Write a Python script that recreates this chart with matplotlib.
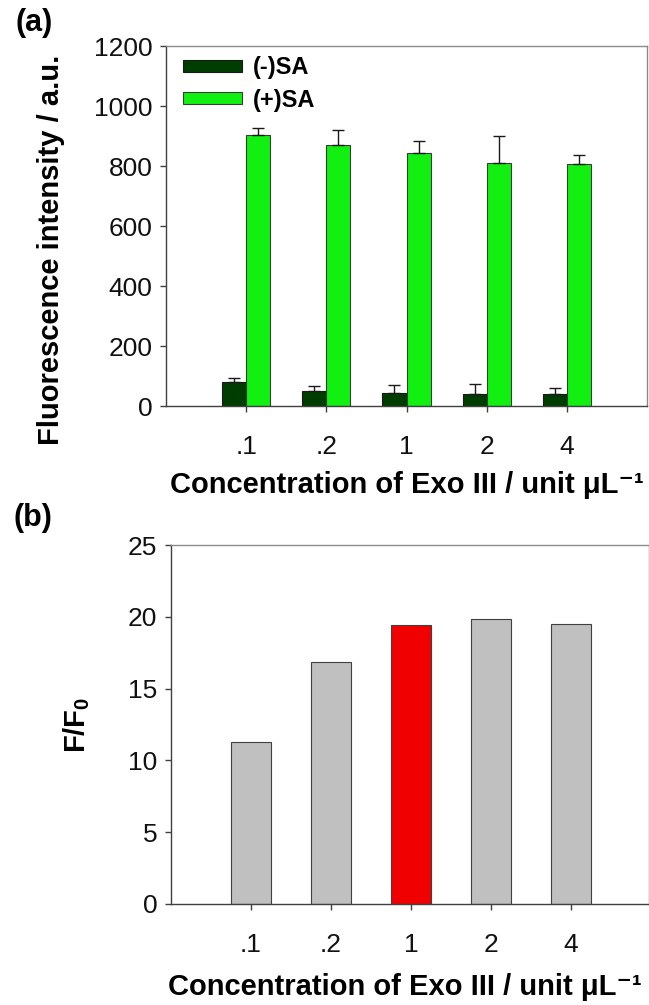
import numpy as np
import matplotlib.pyplot as plt

plt.rcParams['font.family'] = ['Liberation Sans', 'DejaVu Sans']
plt.rcParams['mathtext.fontset'] = 'custom'
plt.rcParams['mathtext.rm'] = 'Liberation Sans'
plt.rcParams['mathtext.bf'] = 'Liberation Sans:bold'

# data
conc_labels = ['.1', '.2', '1', '2', '4']
minus_sa = [80, 51, 45, 41, 41]
minus_sa_err = [15, 16, 24, 31, 19]
plus_sa = [905, 870, 845, 811, 806]
plus_sa_err = [21, 51, 37, 88, 31]
ratio = [11.25, 16.86, 19.46, 19.87, 19.53]
ratio_colors = ['#c0c0c0', '#c0c0c0', '#f00000', '#c0c0c0', '#c0c0c0']

x = np.arange(1, len(conc_labels) + 1)

fig = plt.figure(figsize=(6.49, 10.05), dpi=100)
ax1 = fig.add_axes([0.2558, 0.596, 0.7411, 0.3582])
ax2 = fig.add_axes([0.2635, 0.1005, 0.7365, 0.3572])

xlab = 'Concentration of Exo III / unit μL\u207b\u00b9'

def style(ax):
    for s in ['left', 'bottom']:
        ax.spines[s].set_color('#404040')
    for s in ['top', 'right']:
        ax.spines[s].set_color('#8a8a8a')
    for s in ax.spines.values():
        s.set_linewidth(1.0)
    ax.tick_params(axis='both', direction='out', length=4.3, width=1,
                   colors='#404040', labelcolor='#111111', labelsize=19)
    ax.tick_params(axis='y', pad=5.5)
    ax.tick_params(axis='x', pad=16.5)
    ax.tick_params(top=False, right=False)

# (a)
w = 0.3
ax1.bar(x - w / 2, minus_sa, w, color='#003d00', edgecolor='#1a1a1a', linewidth=0.8,
        label='(-)SA')
ax1.bar(x + w / 2, plus_sa, w, color='#11f011', edgecolor='#3a3a3a', linewidth=0.8,
        label='(+)SA')
ax1.errorbar(x - w / 2, minus_sa, yerr=[np.zeros(5), minus_sa_err], fmt='none',
             ecolor='#1a1a1a', elinewidth=1, capsize=4, capthick=1)
ax1.errorbar(x + w / 2, plus_sa, yerr=[np.zeros(5), plus_sa_err], fmt='none',
             ecolor='#1a1a1a', elinewidth=1, capsize=4, capthick=1)
ax1.set_xlim(0, 6)
ax1.set_ylim(0, 1200)
ax1.set_yticks(np.arange(0, 1201, 200))
ax1.set_xticks(x)
ax1.set_xticklabels(conc_labels)
style(ax1)
ax1.set_ylabel('Fluorescence intensity / a.u.', fontsize=21, fontweight='bold', va='center')
ax1.yaxis.set_label_coords(-0.239, 0.435)
ax1.set_xlabel(xlab, fontsize=21, fontweight='bold', va='center')
ax1.xaxis.set_label_coords(0.5, -0.219)
leg = ax1.legend(loc='upper left', bbox_to_anchor=(0.035, 0.972), frameon=False,
                 prop={'weight': 'bold', 'size': 17},
                 handlelength=2.5, handleheight=0.42, handletextpad=0.45,
                 labelspacing=0.4, borderpad=0, borderaxespad=0)

# (b)
ax2.bar(x, ratio, 0.5, color=ratio_colors, edgecolor='#404040', linewidth=0.8)
ax2.set_xlim(0, 5.975)
ax2.set_ylim(0, 25)
ax2.set_yticks(np.arange(0, 26, 5))
ax2.set_xticks(x)
ax2.set_xticklabels(conc_labels)
style(ax2)
ax2.set_ylabel(r'F/F$_{\mathbf{0}}$', fontsize=21, fontweight='bold', va='center')
ax2.yaxis.set_label_coords(-0.197, 0.5)
ax2.set_xlabel(xlab, fontsize=21, fontweight='bold', va='center')
ax2.xaxis.set_label_coords(0.49, -0.232)

fig.text(34 / 649, 1 - 23 / 1005, '(a)', fontsize=22, fontweight='bold', ha='center', va='center')
fig.text(33 / 649, 1 - 518 / 1005, '(b)', fontsize=22, fontweight='bold', ha='center', va='center')

fig.savefig('out.png', dpi=100)
